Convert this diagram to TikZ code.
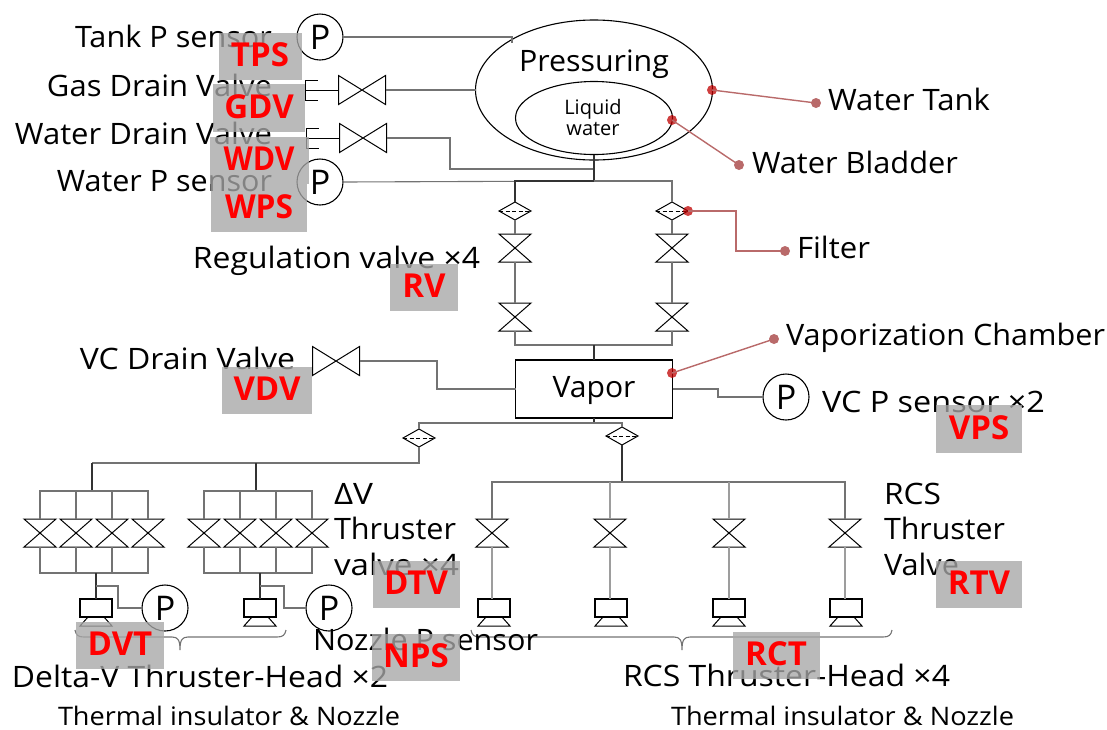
\documentclass[tikz,border=0pt]{standalone}
\usepackage{fontspec}
\usepackage{graphicx}
\setmainfont{Open Sans}
\usetikzlibrary{calc,shapes.geometric}
\definecolor{pipe}{HTML}{737373}
\definecolor{callout}{HTML}{B96A6A}
\definecolor{tagfill}{HTML}{A7A7A7}
\newcommand\Fit[2]{\resizebox{#1pt}{\height}{#2}}
\tikzset{
  pipeline/.style={draw=pipe,line width=1.1pt},
  darkline/.style={draw=black!80,line width=1.1pt},
  symline/.style={draw=black,line width=1pt,line join=miter},
  hollow/.style={inner sep=0pt,outer sep=0pt},
  vvalve/.style={hollow,minimum width=32pt,minimum height=28pt},
  hvalve/.style={hollow,minimum width=47pt,minimum height=29pt},
  filterbox/.style={hollow,minimum width=32pt,minimum height=18pt},
  pgauge/.style={circle,draw=black,line width=1.1pt,fill=white,minimum size=46pt,hollow,font=\fontsize{34}{36}\selectfont},
  thrusterbox/.style={draw=black,line width=1.1pt,hollow,minimum width=32pt,minimum height=18pt,fill=white},
  nozzlebox/.style={hollow,minimum width=32pt,minimum height=9pt},
  lbl/.style={inner sep=0pt,outer sep=0pt,text height=21pt,text depth=0pt,font=\fontsize{29.5}{31}\selectfont},
  lbll/.style={lbl,anchor=west},
  lblr/.style={lbl,anchor=east},
  small/.style={inner sep=0pt,outer sep=0pt,anchor=west,text height=18pt,text depth=0pt,font=\fontsize{25.5}{27}\selectfont},
  calloutline/.style={draw=callout,line width=1.4pt},
  calloutend/.style={circle,fill=callout,hollow,minimum size=10pt},
  calloutstart/.style={circle,fill=red!75!black,fill opacity=.75,hollow,minimum size=10pt},
  tag/.style={fill=tagfill,fill opacity=.78,text opacity=1,text=red,inner sep=0pt,font=\fontsize{33}{35}\selectfont\bfseries,anchor=center},
}
\newcommand\VValve[2]{\node[vvalve] (#1) at (#2) {};
  \draw[symline] (#1.north west)--(#1.north east)--(#1.south west)--(#1.south east)--cycle;}
\newcommand\HValve[2]{\node[hvalve] (#1) at (#2) {};
  \draw[symline] (#1.north west)--(#1.south east)--(#1.north east)--(#1.south west)--cycle;}
\newcommand\Fltr[2]{\node[filterbox] (#1) at (#2) {};
  \draw[symline] (#1.north)--(#1.east)--(#1.south)--(#1.west)--cycle;
  \draw[symline,dashed,line width=.9pt,dash pattern=on 4pt off 2.5pt] (#1.west)--(#1.east);}
\newcommand\Thruster[2]{\node[thrusterbox] (#1) at (#2) {};
  \node[nozzlebox,anchor=north] (#1n) at (#1.south) {};
  \draw[symline] ($(#1n.north west)!.25!(#1n.north east)$)--(#1n.south west)--(#1n.south east)--($(#1n.north west)!.75!(#1n.north east)$)--cycle;}
\newcommand\Tag[5]{\node[tag,minimum width=#4pt,minimum height=#5pt] (#1) at (#3) {\raisebox{3.5pt}{#2}};}
\begin{document}
\begin{tikzpicture}[x=1pt,y=-1pt]
\useasboundingbox (0,0) rectangle (1107,729);
% tank
\node[draw=black,line width=1.1pt,ellipse,hollow,minimum width=237pt,minimum height=140pt] (tank) at (594,90) {};
\node[draw=black,line width=1.1pt,ellipse,hollow,minimum width=157pt,minimum height=73pt] (bladder) at (594,118) {};
\node[lbl] (tanktxt) at (594,61) {\Fit{150}{Pressuring}};
\node[inner sep=0pt,align=center,font=\fontsize{20}{21}\selectfont] (bladdertxt) at (593,117) {Liquid\\water};
% gauges
\node[pgauge] (ptank) at (320,37) {P};
\node[pgauge] (pwater) at (320,182) {P};
\node[pgauge] (pvc) at (786,397) {P};
\node[pgauge] (pn1) at (165,608) {P};
\node[pgauge] (pn2) at (329,608) {P};
% drain valves
\HValve{gdv}{362,90}
\HValve{wdv}{363,138}
\foreach \v in {gdv,wdv}{
  \coordinate (\v stem) at ($(\v.west)+(-33,0)$);
  \draw[symline] (\v.west)--(\v stem);
  \draw[symline] ($(\v stem)+(12,-10)$)--($(\v stem)+(0,-10)$)--($(\v stem)+(0,10)$)--($(\v stem)+(12,10)$);
}
\coordinate (tee) at (594,181);
\coordinate (teeup) at (594,169);
\draw[pipeline] (ptank.east) -- (512,37) -- (512,43);
\draw[pipeline] (gdv.east) -- (476,90);
\draw[pipeline] (wdv.east) -| (450,169) -- (teeup);
\draw[pipeline] (pwater.east) -- (tee);
\draw[darkline] (bladder.south) -- (tee);
% regulation
\Fltr{fa}{515,211} \Fltr{fb}{672,211}
\VValve{va}{515,248} \VValve{vb}{672,248}
\VValve{vc}{515,317} \VValve{vd}{672,317}
\node[draw=black,line width=1.3pt,hollow,minimum width=157pt,minimum height=58pt] (vapor) at (594,389) {};
\node[lbl] (vaportxt) at (594,387) {\Fit{83}{Vapor}};
\coordinate (merge) at (594,345);
\draw[darkline] (tee) -| (fa.north);
\draw[pipeline] (tee) -| (fb.north);
\draw[pipeline] (fa.south)--(va.north) (va.south)--(vc.north);
\draw[pipeline] (fb.south)--(vb.north) (vb.south)--(vd.north);
\draw[pipeline] (vc.south) |- (merge) -| (vd.south);
\draw[darkline] (merge) -- (vapor.north);
% VC drain valve
\HValve{vdv}{336,361}
\draw[pipeline] (vdv.east) -- (437,361) |- (vapor.west);
\draw[pipeline] (vapor.east) -- (718,389) |- (pvc.west);
% split
\Fltr{fd}{419,438} \Fltr{fr}{622,436}
\coordinate (split) at (594,423);
\draw[darkline] (vapor.south) -- (split);
\draw[pipeline] (split) -| (fd.north);
\draw[pipeline] (split) -| (fr.north);
% Delta-V
\coordinate (dvbus1) at (92,463);
\coordinate (dvbus2) at (256,463);
\draw[pipeline] (fd.south) |- (dvbus1);
\draw[darkline] (dvbus1) -- (92,491);
\draw[darkline] (dvbus2) -- (256,491);
\foreach \g/\xa/\xb/\xc/\xd in {a/40/76/112/148,b/204/240/276/312}{
  \VValve{dv\g1}{\xa,533} \VValve{dv\g2}{\xb,533} \VValve{dv\g3}{\xc,533} \VValve{dv\g4}{\xd,533}
  \draw[pipeline] (dv\g1.north) |- (\xd,491) -- (dv\g4.north);
  \draw[pipeline] (dv\g1.south) |- (\xd,573) -- (dv\g4.south);
  \draw[pipeline] (dv\g2.north) -- (\xb,491) (dv\g3.north) -- (\xc,491);
  \draw[pipeline] (dv\g2.south) -- (\xb,573) (dv\g3.south) -- (\xc,573);
}
\Thruster{dt1}{96,608} \Thruster{dt2}{260,608}
\draw[darkline] (96,573) -- (dt1.north);
\draw[darkline] (260,573) -- (dt2.north);
\draw[pipeline] (96,586) -- (118,586) |- (pn1.west);
\draw[pipeline] (260,586) -- (284,586) |- (pn2.west);
% RCS
\coordinate (rbus) at (622,482);
\draw[darkline] (fr.south) -- (rbus);
\foreach \n/\x/\tx in {1/492/494,2/610/611,3/729/729,4/845/846}{
  \VValve{rv\n}{\x,533}
  \Thruster{rt\n}{\tx,608}
  \draw[pipeline,draw=pipe!70] (rv\n.south) -- (\x,599);
}
\draw[pipeline] (rv1.north) |- (rbus) -| (rv4.north);
\draw[pipeline,draw=pipe!70] (rv2.north) -- (610,482);
\draw[pipeline,draw=pipe!70] (rv3.north) -- (729,482);
% braces
\coordinate (ba) at (75,630); \coordinate (bb) at (180,650); \coordinate (bc) at (286,630);
\coordinate (bd) at (471,630); \coordinate (be) at (682,650); \coordinate (bf) at (892,630);
\draw[pipeline] (ba) .. controls (76,635) and (78,637) .. (84,637) -- (172,637) .. controls (178,637) and (180,640) .. (bb) .. controls (180,640) and (182,637) .. (188,637) -- (277,637) .. controls (283,637) and (285,635) .. (bc);
\draw[pipeline] (bd) .. controls (472,635) and (474,637) .. (480,637) -- (674,637) .. controls (680,637) and (682,640) .. (be) .. controls (682,640) and (684,637) .. (690,637) -- (883,637) .. controls (889,637) and (891,635) .. (bf);
% callouts
\node[calloutend] (cta) at (816,103) {};
\node[calloutend] (cba) at (739,165) {};
\node[calloutend] (cfa) at (785,251) {};
\node[calloutend] (cva) at (774,339) {};
\node[calloutstart] (ctb) at (712,90) {};
\node[calloutstart] (cbb) at (672,120) {};
\node[calloutstart] (cfb) at (688,211) {};
\node[calloutstart] (cvb) at (672,373) {};
\draw[calloutline] (ctb.center) -- (cta.center);
\draw[calloutline] (cbb.center) -- (cba.center);
\draw[calloutline] (cfb.center) -- (736,211) |- (cfa.center);
\draw[calloutline] (cvb.center) -- (cva.center);
% labels
\node[lblr] (l1) at (272,37) {\Fit{197}{Tank P sensor}};
\node[lblr] (l2) at (272,86) {\Fit{225}{Gas Drain Valve}};
\node[lblr] (l3) at (272,134) {\Fit{257}{Water Drain Valve}};
\node[lblr] (l4) at (272,181) {\Fit{215}{Water P sensor}};
\node[lblr] (l5) at (480,258) {\Fit{287}{Regulation valve ×4}};
\node[lblr] (l6) at (295,359) {\Fit{215}{VC Drain Valve}};
\node[lbll] (l7) at (334,494) {\Fit{39}{ΔV}};
\node[lbll] (l8) at (334,529) {\Fit{122}{Thruster}};
\node[lbll] (l9) at (334,565) {\Fit{125}{valve ×4}};
\node[lbll] (l10) at (884,494) {\Fit{57}{RCS}};
\node[lbll] (l11) at (884,529) {\Fit{121}{Thruster}};
\node[lbll] (l12) at (884,565) {\Fit{75}{Valve}};
\node[lbll] (l13) at (313,640) {\Fit{225}{Nozzle P sensor}};
\node[lbll] (l14) at (12,677) {\Fit{376}{Delta-V Thruster-Head ×2}};
\node[lbll] (l15) at (623,676) {\Fit{327}{RCS Thruster-Head ×4}};
\node[small] (l16) at (58,716) {\Fit{342}{Thermal insulator \& Nozzle}};
\node[small] (l17) at (671,716) {\Fit{343}{Thermal insulator \& Nozzle}};
\node[lbll] (l18) at (828,100) {\Fit{162}{Water Tank}};
\node[lbll] (l19) at (752,163) {\Fit{206}{Water Bladder}};
\node[lbll] (l20) at (797,248) {\Fit{73}{Filter}};
\node[lbll] (l21) at (786,335) {\Fit{319}{Vaporization Chamber}};
\node[lbll] (l22) at (822,402) {\Fit{223}{VC P sensor ×2}};
% tags
\Tag{tTPS}{TPS}{260,56}{83}{47}
\Tag{tGDV}{GDV}{259,108}{92}{48}
\Tag{tWDV}{\Fit{71}{WDV}}{259,160}{99}{47}
\Tag{tWPS}{\Fit{68}{WPS}}{259,208}{96}{48}
\Tag{tRV}{RV}{424,287}{68}{47}
\Tag{tVDV}{VDV}{267,390}{90}{47}
\Tag{tVPS}{VPS}{979,429}{86}{48}
\Tag{tDTV}{DTV}{416,584}{87}{47}
\Tag{tRTV}{RTV}{979,584}{86}{47}
\Tag{tDVT}{DVT}{120,645}{88}{47}
\Tag{tNPS}{NPS}{416,657}{88}{47}
\Tag{tRCT}{RCT}{776,655}{87}{47}
\end{tikzpicture}
\end{document}
